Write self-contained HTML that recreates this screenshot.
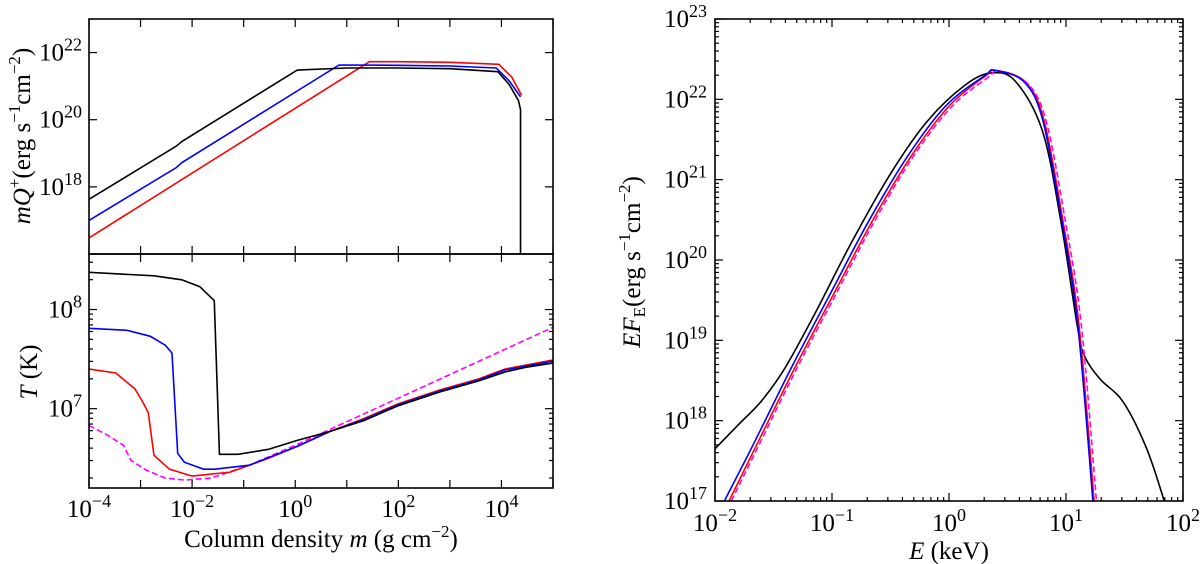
<!DOCTYPE html>
<html><head><meta charset="utf-8"><style>
html,body{margin:0;padding:0;background:#fff;}
svg{display:block;font-family:"Liberation Serif",serif;}
</style></head><body>
<svg id="fig" width="1200" height="564" viewBox="0 0 1200 564" xmlns="http://www.w3.org/2000/svg">
<defs>
<clipPath id="cTop"><rect x="89" y="19" width="464" height="235"/></clipPath>
<clipPath id="cBot"><rect x="89" y="254" width="464" height="234"/></clipPath>
<clipPath id="cR"><rect x="715" y="19" width="468" height="482"/></clipPath>
</defs>
<g id="gTop"></g>
<g id="gBot"></g>
<g id="gR"></g>
<text x="30" y="136" font-size="25" text-anchor="middle" transform="rotate(-90 30 136)"><tspan font-style="italic">mQ</tspan><tspan dy="-10" font-size="17">+</tspan><tspan dy="10">(erg s</tspan><tspan dy="-10" font-size="17">−1</tspan><tspan dy="10">cm</tspan><tspan dy="-10" font-size="17">−2</tspan><tspan dy="10">)</tspan></text>
<text x="37" y="372" font-size="25" text-anchor="middle" transform="rotate(-90 37 372)"><tspan font-style="italic">T</tspan> (K)</text>
<text x="321" y="547" font-size="25" text-anchor="middle">Column density <tspan font-style="italic">m</tspan> (g cm<tspan dy="-10" font-size="17">−2</tspan><tspan dy="10">)</tspan></text>
<text x="949" y="559" font-size="25" text-anchor="middle"><tspan font-style="italic">E</tspan> (keV)</text>
<text x="640" y="262" font-size="25" text-anchor="middle" transform="rotate(-90 640 262)"><tspan font-style="italic">EF</tspan><tspan dy="5" font-size="17">E</tspan><tspan dy="-5">(erg s</tspan><tspan dy="-10" font-size="17">−1</tspan><tspan dy="10">cm</tspan><tspan dy="-10" font-size="17">−2</tspan><tspan dy="10">)</tspan></text>
</svg>
<script>
// ---- data: heating panel (log10 m, log10 mQ+) ----
const heatBlackX=[-4,-2.3,-2.2,0.04,1,2,3,3.93,4.15,4.33,4.37,4.37];
const heatBlackY=[17.63,19.22,19.35,21.48,21.54,21.54,21.52,21.43,21.05,20.57,20.3,15];
const heatBlueX=[-4,-2.3,-2.2,0.85,2,3,3.9,4.15,4.37];
const heatBlueY=[17.0,18.58,18.72,21.63,21.62,21.6,21.54,21.16,20.68];
const heatRedX=[-4,1.44,2,3,3.95,4.2,4.39];
const heatRedY=[16.48,21.73,21.73,21.71,21.65,21.27,20.73];
// ---- data: temperature panel (log10 m, log10 T) ----
const tBlackX=[-4,-2.74,-2.2,-1.85,-1.67,-1.57,-1.47,-1.11,-0.52,0.04,0.67,1.33,2,2.81,3.56,4.07,4.5,5];
const tBlackY=[8.375,8.34,8.3,8.23,8.14,8.09,6.54,6.54,6.59,6.68,6.77,6.88,7.03,7.17,7.28,7.37,7.42,7.46];
const tBlueX=[-4,-3.26,-2.81,-2.52,-2.39,-2.28,-2.15,-1.78,-1.56,-0.89,0.04,0.67,1.33,2,2.81,3.56,4.07,5];
const tBlueY=[7.81,7.79,7.73,7.64,7.56,6.55,6.46,6.39,6.39,6.43,6.62,6.77,6.89,7.04,7.18,7.29,7.39,7.48];
const tRedX=[-4,-3.48,-3.11,-2.96,-2.85,-2.74,-2.44,-2,-1.26,-0.52,0.04,0.67,1.33,2,2.81,3.56,4.07,5];
const tRedY=[7.4,7.36,7.2,7.07,6.96,6.53,6.39,6.32,6.36,6.5,6.62,6.77,6.9,7.05,7.19,7.3,7.4,7.49];
const tMagX=[-4,-3.63,-3.33,-3.19,-2.89,-2.52,-2.15,-1.63,-0.89,0.04,0.67,5];
const tMagY=[6.83,6.73,6.63,6.48,6.38,6.3,6.28,6.3,6.43,6.64,6.79,7.82];
// ---- data: spectrum panel (log10 E, log10 EF_E) ----
const sBlackX=[-2,-1.8,-1.6,-1.4,-1.14,-0.84,-0.51,-0.19,0.14,0.37,0.57,0.8,0.96,1.1,1.16,1.29,1.49,1.69,1.84];
const sBlackY=[17.65,17.95,18.25,18.66,19.35,20.2,21.05,21.72,22.18,22.33,22.22,21.6,20.45,19.15,18.8,18.52,18.23,17.65,17.0];
const sBlueX=[-1.92,-1.66,-1.34,-1,-0.68,-0.35,-0.02,0.31,0.39,0.64,0.8,0.96,1.1,1.23];
const sBlueY=[17,17.74,18.68,19.62,20.5,21.3,21.93,22.3,22.36,22.22,21.75,20.52,19.2,17];
const sRedX=[-1.88,-1.63,-1.31,-0.97,-0.65,-0.32,0.01,0.32,0.4,0.65,0.81,0.97,1.11,1.24];
const sRedY=[17,17.74,18.68,19.62,20.5,21.3,21.93,22.3,22.36,22.22,21.75,20.52,19.2,17];
const sMagX=[-1.86,-1.61,-1.29,-0.95,-0.63,-0.3,0.03,0.34,0.42,0.67,0.83,0.99,1.13,1.26];
const sMagY=[17,17.74,18.68,19.62,20.5,21.3,21.92,22.28,22.35,22.2,21.73,20.52,19.2,17];
// tick labels
const topYTicks=[18,20,22];
const botYTicks=[7,8];
const leftXTicks=[-4,-2,0,2,4];
const rXTicks=[-2,-1,0,1,2];
const rYTicks=[17,18,19,20,21,22,23];

const NS="http://www.w3.org/2000/svg";
function mk(tag,attrs,parent){const e=document.createElementNS(NS,tag);for(const k in attrs)e.setAttribute(k,attrs[k]);parent.appendChild(e);return e;}
function scale(d0,d1,r0,r1){return v=>r0+(v-d0)*(r1-r0)/(d1-d0);}

const xL=scale(-4,5,89,553);
const yTop=scale(16,23,254,19);
const yBot=scale(6.2,8.56,488,254);
const xR=scale(-2,2,715,1183);
const yR=scale(17,23,501,19);

function linePath(xs,ys,fx,fy){return xs.map((v,i)=>(i?'L':'M')+fx(v).toFixed(2)+','+fy(ys[i]).toFixed(2)).join('');}
function smoothPath(xs,ys,fx,fy){
  const p=xs.map((v,i)=>[fx(v),fy(ys[i])]);
  let d='M'+p[0][0].toFixed(2)+','+p[0][1].toFixed(2);
  for(let i=0;i<p.length-1;i++){
    const a=p[i-1]||p[i],b=p[i],c=p[i+1],e=p[i+2]||c;
    const c1=[b[0]+(c[0]-a[0])/6,b[1]+(c[1]-a[1])/6],c2=[c[0]-(e[0]-b[0])/6,c[1]-(e[1]-b[1])/6];
    d+='C'+c1[0].toFixed(2)+','+c1[1].toFixed(2)+' '+c2[0].toFixed(2)+','+c2[1].toFixed(2)+' '+c[0].toFixed(2)+','+c[1].toFixed(2);
  }
  return d;
}
function lbl(parent,x,y,exp,anchor){
  const t=mk('text',{x:x,y:y,'font-size':25,'text-anchor':anchor},parent);
  t.textContent='10';
  const s=mk('tspan',{dy:-10,'font-size':18},t);
  s.textContent=(exp<0?'−':'')+Math.abs(exp);
  return t;
}
function tick(parent,x1,y1,x2,y2){mk('line',{x1:x1,y1:y1,x2:x2,y2:y2,stroke:'#000','stroke-width':1.2},parent);}

// ---------- top panel ----------
const gT=document.getElementById('gTop');
const ct=mk('g',{'clip-path':'url(#cTop)'},gT);
[[heatRedX,heatRedY,'#ff0000','heat-red'],[heatBlueX,heatBlueY,'#0000ff','heat-blue'],[heatBlackX,heatBlackY,'#000','heat-black']].forEach(s=>{
  const p=mk('path',{d:linePath(s[0],s[1],xL,yTop),fill:'none',stroke:s[2],'stroke-width':1.6},ct);
  
  
});
for(let e=-4;e<=5;e++){const x=xL(e);tick(gT,x,254,x,246);tick(gT,x,19,x,27);}
topYTicks.forEach(v=>{const y=yTop(v);tick(gT,89,y,97,y);tick(gT,553,y,545,y);
  const t=lbl(gT,82,y+8,v,'end');});
mk('rect',{x:89,y:19,width:464,height:235,fill:'none',stroke:'#000','stroke-width':1.6},gT);

// ---------- bottom panel ----------
const gB=document.getElementById('gBot');
const cb=mk('g',{'clip-path':'url(#cBot)'},gB);
[[tMagX,tMagY,'#ff00ff','temp-magenta',true],[tRedX,tRedY,'#ff0000','temp-red'],[tBlueX,tBlueY,'#0000ff','temp-blue'],[tBlackX,tBlackY,'#000','temp-black']].forEach(s=>{
  const a={d:linePath(s[0],s[1],xL,yBot),fill:'none',stroke:s[2],'stroke-width':1.6};
  if(s[4])a['stroke-dasharray']='6,3';
  const p=mk('path',a,cb);
  
  
});
for(let e=-4;e<=5;e++){const x=xL(e);tick(gB,x,488,x,480);tick(gB,x,254,x,262);}
for(let dec=6;dec<=8;dec++)for(let m=1;m<=9;m++){const v=dec+Math.log10(m);if(v<6.2||v>8.56)continue;const y=yBot(v);const len=m===1?8:4;tick(gB,89,y,89+len,y);tick(gB,553,y,553-len,y);}
botYTicks.forEach(v=>{const t=lbl(gB,82,yBot(v)+8,v,'end');});
leftXTicks.forEach(v=>{const t=lbl(gB,xL(v),517,v,'middle');});
mk('rect',{x:89,y:254,width:464,height:234,fill:'none',stroke:'#000','stroke-width':1.6},gB);

// ---------- right panel ----------
const gRr=document.getElementById('gR');
const cr=mk('g',{'clip-path':'url(#cR)'},gRr);
[[sBlackX,sBlackY,'#000','spec-black'],[sRedX,sRedY,'#ff0000','spec-red'],[sMagX,sMagY,'#ff00ff','spec-magenta',true],[sBlueX,sBlueY,'#0000ff','spec-blue']].forEach(s=>{
  const a={d:smoothPath(s[0],s[1],xR,yR),fill:'none',stroke:s[2],'stroke-width':1.6};
  if(s[4])a['stroke-dasharray']='6,3';
  const p=mk('path',a,cr);
  
  
});
for(let dec=-2;dec<=2;dec++)for(let m=1;m<=9;m++){const v=dec+Math.log10(m);if(v>2.001)continue;const x=xR(v);const len=m===1?8:4;tick(gRr,x,501,x,501-len);tick(gRr,x,19,x,19+len);}
for(let dec=17;dec<=23;dec++)for(let m=1;m<=9;m++){const v=dec+Math.log10(m);if(v>23.001)continue;const y=yR(v);const len=m===1?8:4;tick(gRr,715,y,715+len,y);tick(gRr,1183,y,1183-len,y);}
rYTicks.forEach(v=>{const t=lbl(gRr,707,yR(v)+8,v,'end');});
rXTicks.forEach(v=>{const t=lbl(gRr,xR(v),531,v,'middle');});
mk('rect',{x:715,y:19,width:468,height:482,fill:'none',stroke:'#000','stroke-width':1.6},gRr);
</script>
</body></html>
